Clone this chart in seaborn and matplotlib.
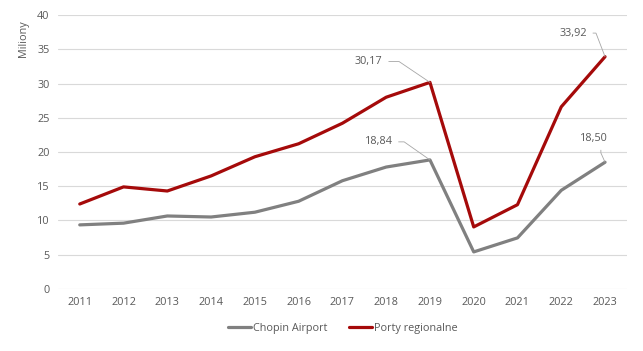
import seaborn as sns
import pandas as pd
from matplotlib import pyplot as plt

years = list(range(2011, 2024))
chopin = [9.35, 9.6, 10.65, 10.5, 11.2, 12.8, 15.8, 17.8, 18.84, 5.4, 7.45, 14.4, 18.50]
regional = [12.4, 14.9, 14.3, 16.5, 19.3, 21.2, 24.2, 28.0, 30.17, 9.05, 12.3, 26.6, 33.92]
series_names = ["Chopin Airport", "Porty regionalne"]
y_ticks = list(range(0, 45, 5))

# long form for seaborn
df = pd.DataFrame({
    "rok": years * 2,
    "wartosc": chopin + regional,
    "seria": [series_names[0]] * len(years) + [series_names[1]] * len(years),
})

sns.set_style("white")
plt.rcParams['font.family'] = ['Open Sans', 'DejaVu Sans']
text_col = "#595959"
fs = 7.8

fig = plt.figure(figsize=(6.43, 3.51), dpi=100)
ax = fig.add_axes([0.090, 0.177, 0.885, 0.780])
sns.lineplot(data=df, x="rok", y="wartosc", hue="seria",
             palette={series_names[0]: "#808080", series_names[1]: "#A50A0A"},
             linewidth=2.3, ax=ax, legend=True)

ax.set_xlim(2010.5, 2023.5)
ax.set_ylim(0, 40)
ax.set_xticks(years)
ax.set_yticks(y_ticks)
ax.tick_params(axis="both", length=0, labelsize=fs, colors=text_col, pad=6)
ax.yaxis.grid(True, color="#d9d9d9", linewidth=0.8)
ax.xaxis.grid(False)
for s in ax.spines.values():
    s.set_visible(False)
ax.set_xlabel("")
ax.set_ylabel("Miliony", fontsize=fs, color=text_col)
ax.yaxis.set_label_coords(-0.050, 0.915)

# data labels with elbow leader lines
labels = [
    (2019, 30.17, "30,17", (-44, 15), (1, 0.5), 146),
    (2019, 18.84, "18,84", (-37, 13), (1, 0.5), 145),
    (2023, 33.92, "33,92", (-23, 17), (1, 0.5), 111),
    (2023, 18.50, "18,50", (-8, 17), (0.75, 0), 114),
]
for x, y, txt, off, rp, angB in labels:
    angA = 0 if rp[1] == 0.5 else 90
    ax.annotate(txt, xy=(x, y), xytext=off, textcoords="offset points",
                ha="center", va="center", fontsize=fs, color=text_col,
                arrowprops=dict(arrowstyle="-", color="#a6a6a6", lw=0.6,
                                shrinkA=2, shrinkB=0, relpos=rp,
                                connectionstyle=f"angle,angleA={angA},angleB={angB},rad=0"))

ax.legend(loc="center", bbox_to_anchor=(0.5, -0.145), ncol=2, frameon=False,
          fontsize=fs, handlelength=2.2, handletextpad=0.1, columnspacing=2.0,
          labelcolor=text_col)

plt.savefig("out.png", dpi=100)
